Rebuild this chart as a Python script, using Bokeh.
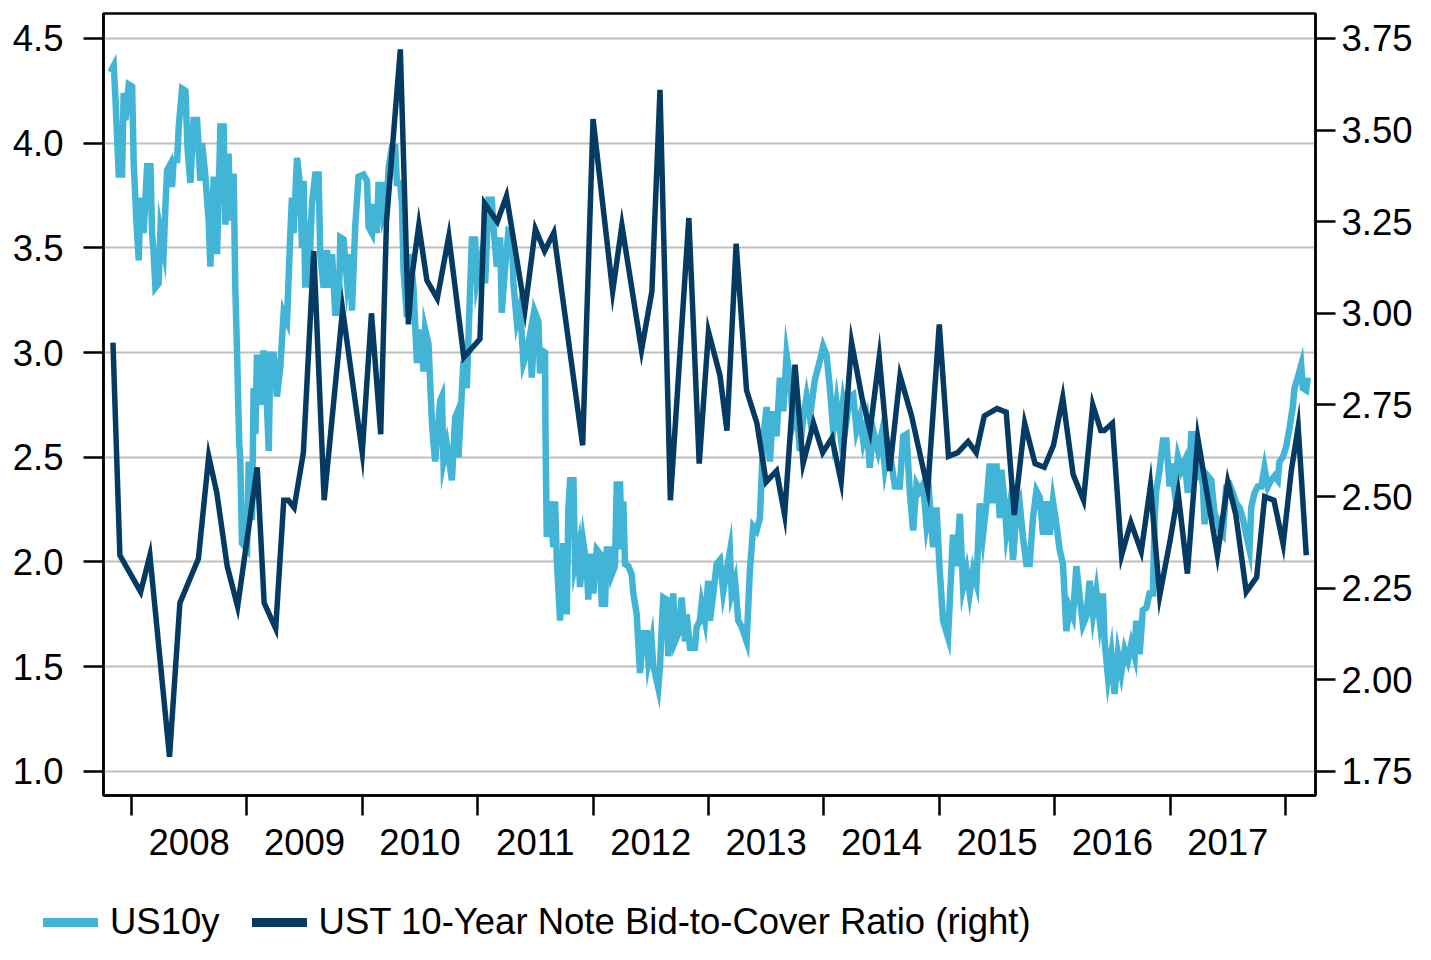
from bokeh.plotting import figure
from bokeh.layouts import column
from bokeh.models import (Range1d, LinearAxis, FixedTicker, PrintfTickFormatter, Div)
from bokeh.embed import file_html
from bokeh.resources import INLINE

# ---------------- data ----------------
year_ticks = [2008, 2009, 2010, 2011, 2012, 2013, 2014, 2015, 2016, 2017, 2018]
left_ticks = [1.0, 1.5, 2.0, 2.5, 3.0, 3.5, 4.0, 4.5]
right_ticks = [1.75, 2.0, 2.25, 2.5, 2.75, 3.0, 3.25, 3.5, 3.75]

us10y_t = (
    [2007.818, 2007.847, 2007.861, 2007.890, 2007.919, 2007.933, 2007.948, 2007.977]
    + [2008.006, 2008.020, 2008.043, 2008.063, 2008.078, 2008.106, 2008.136, 2008.165, 2008.179, 2008.193,
       2008.208, 2008.236, 2008.251, 2008.280, 2008.294, 2008.309, 2008.338, 2008.352, 2008.366, 2008.396,
       2008.410, 2008.439, 2008.468, 2008.487, 2008.511, 2008.539, 2008.569, 2008.597, 2008.612, 2008.641,
       2008.669, 2008.684, 2008.713, 2008.742, 2008.771, 2008.799, 2008.814, 2008.842, 2008.857, 2008.872,
       2008.886, 2008.900, 2008.915, 2008.926, 2008.935, 2008.944, 2008.958]
    + [2009.002, 2009.016, 2009.045, 2009.059, 2009.074, 2009.088, 2009.117, 2009.145, 2009.175, 2009.190,
       2009.203, 2009.232, 2009.261, 2009.290, 2009.319, 2009.348, 2009.377, 2009.391, 2009.405, 2009.435,
       2009.463, 2009.478, 2009.492, 2009.506, 2009.521, 2009.535, 2009.564, 2009.593, 2009.622, 2009.636,
       2009.665, 2009.694, 2009.723, 2009.738, 2009.766, 2009.795, 2009.810, 2009.838, 2009.868, 2009.896,
       2009.911, 2009.939, 2009.968]
    + [2010.011, 2010.041, 2010.055, 2010.084, 2010.098, 2010.127, 2010.141, 2010.171, 2010.184, 2010.214,
       2010.228, 2010.257, 2010.286, 2010.300, 2010.329, 2010.344, 2010.358, 2010.387, 2010.416, 2010.444,
       2010.474, 2010.502, 2010.531, 2010.545, 2010.574, 2010.603, 2010.615, 2010.632, 2010.675, 2010.690,
       2010.704, 2010.733, 2010.777, 2010.805, 2010.820, 2010.834, 2010.877, 2010.906, 2010.935, 2010.950,
       2010.978, 2010.993]
    + [2011.036, 2011.065, 2011.094, 2011.123, 2011.137, 2011.166, 2011.195, 2011.209, 2011.238, 2011.267,
       2011.296, 2011.310, 2011.339, 2011.368, 2011.397, 2011.426, 2011.455, 2011.469, 2011.498, 2011.526,
       2011.541, 2011.556, 2011.584, 2011.588, 2011.599, 2011.628, 2011.656, 2011.671, 2011.686, 2011.714,
       2011.743, 2011.772, 2011.786, 2011.801, 2011.830, 2011.844, 2011.873, 2011.887, 2011.916, 2011.945,
       2011.959, 2011.974]
    + [2012.003, 2012.032, 2012.061, 2012.075, 2012.104, 2012.119, 2012.147, 2012.162, 2012.190, 2012.205,
       2012.234, 2012.248, 2012.262, 2012.277, 2012.306, 2012.335, 2012.349, 2012.378, 2012.407, 2012.435,
       2012.465, 2012.479, 2012.508, 2012.522, 2012.537, 2012.565, 2012.580, 2012.595, 2012.609, 2012.638,
       2012.652, 2012.695, 2012.710, 2012.739, 2012.768, 2012.797, 2012.811, 2012.840, 2012.883, 2012.898,
       2012.926, 2012.941, 2012.970, 2012.998]
    + [2013.013, 2013.042, 2013.071, 2013.100, 2013.128, 2013.158, 2013.186, 2013.201, 2013.230, 2013.258,
       2013.288, 2013.331, 2013.359, 2013.388, 2013.417, 2013.446, 2013.475, 2013.504, 2013.532, 2013.561,
       2013.590, 2013.619, 2013.648, 2013.677, 2013.706, 2013.734, 2013.764, 2013.792, 2013.821, 2013.850,
       2013.879, 2013.922, 2013.965, 2013.994]
    + [2014.023, 2014.052, 2014.081, 2014.110, 2014.139, 2014.167, 2014.197, 2014.225, 2014.254, 2014.283,
       2014.312, 2014.340, 2014.370, 2014.398, 2014.427, 2014.470, 2014.500, 2014.528, 2014.557, 2014.586,
       2014.615, 2014.658, 2014.687, 2014.716, 2014.745, 2014.773, 2014.803, 2014.831, 2014.860, 2014.889,
       2014.918, 2014.946, 2014.976]
    + [2015.004, 2015.033, 2015.076, 2015.106, 2015.119, 2015.149, 2015.178, 2015.206, 2015.236, 2015.264,
       2015.293, 2015.322, 2015.351, 2015.379, 2015.409, 2015.437, 2015.466, 2015.495, 2015.524, 2015.538,
       2015.567, 2015.582, 2015.610, 2015.639, 2015.668, 2015.697, 2015.725, 2015.755, 2015.783, 2015.812,
       2015.842, 2015.870, 2015.899, 2015.928, 2015.957, 2015.985]
    + [2016.015, 2016.043, 2016.072, 2016.101, 2016.130, 2016.158, 2016.188, 2016.217, 2016.245, 2016.274,
       2016.303, 2016.332, 2016.361, 2016.390, 2016.418, 2016.433, 2016.462, 2016.491, 2016.519, 2016.548,
       2016.577, 2016.606, 2016.635, 2016.664, 2016.693, 2016.707, 2016.736, 2016.764, 2016.794, 2016.822,
       2016.851, 2016.866, 2016.880, 2016.909, 2016.938, 2016.967, 2016.996]
    + [2017.010, 2017.039, 2017.068, 2017.097, 2017.126, 2017.154, 2017.184, 2017.212, 2017.227, 2017.256,
       2017.284, 2017.299, 2017.327, 2017.357, 2017.385, 2017.414, 2017.428, 2017.457, 2017.487, 2017.515,
       2017.544, 2017.573, 2017.602, 2017.630, 2017.660, 2017.688, 2017.703, 2017.732, 2017.760, 2017.790,
       2017.818, 2017.847, 2017.876, 2017.905, 2017.933, 2017.948, 2017.977, 2018.006, 2018.035, 2018.063,
       2018.078, 2018.106, 2018.136, 2018.150, 2018.179, 2018.193]
)

us10y_v = (
    [4.34, 4.37, 4.22, 3.85, 3.85, 4.24, 4.11, 4.28]
    + [4.27, 3.90, 3.63, 3.44, 3.74, 3.57, 3.89, 3.89, 3.57, 3.47,
       3.31, 3.33, 3.58, 3.49, 3.69, 3.87, 3.90, 3.79, 3.92, 3.92,
       4.08, 4.26, 4.25, 3.97, 3.81, 4.11, 4.11, 3.82, 4.00, 3.84,
       3.63, 3.41, 3.84, 3.47, 4.08, 4.08, 3.61, 3.95, 3.63, 3.84,
       3.84, 3.31, 3.01, 2.74, 2.56, 2.48, 2.09]
    + [2.06, 2.48, 2.20, 2.83, 2.61, 2.99, 2.75, 3.01, 2.74, 2.53,
       2.99, 2.99, 2.79, 2.93, 3.19, 3.15, 3.57, 3.74, 3.57, 3.93,
       3.79, 3.50, 3.82, 3.31, 3.63, 3.31, 3.71, 3.85, 3.85, 3.47,
       3.31, 3.49, 3.31, 3.47, 3.19, 3.19, 3.55, 3.54, 3.34, 3.47,
       3.20, 3.60, 3.84]
    + [3.85, 3.82, 3.60, 3.57, 3.71, 3.57, 3.80, 3.80, 3.66, 3.72,
       3.88, 3.98, 3.98, 3.81, 3.81, 3.71, 3.39, 3.17, 3.47, 3.31,
       2.95, 3.11, 2.91, 3.11, 3.04, 2.68, 2.58, 2.48, 2.77, 2.79,
       2.48, 2.56, 2.39, 2.69, 2.71, 2.50, 2.96, 2.83, 3.31, 3.54,
       3.54, 3.34]
    + [3.47, 3.33, 3.73, 3.73, 3.60, 3.41, 3.55, 3.19, 3.41, 3.58,
       3.57, 3.33, 3.15, 3.22, 2.95, 3.00, 3.09, 2.88, 3.19, 3.15,
       2.90, 3.01, 3.00, 2.61, 2.12, 2.29, 2.07, 2.29, 2.01, 1.72,
       2.09, 1.75, 2.25, 2.39, 2.39, 1.99, 2.07, 1.88, 2.09, 1.98,
       1.82, 2.04]
    + [1.85, 2.06, 2.04, 1.80, 1.80, 2.06, 2.06, 1.94, 1.98, 2.37,
       2.37, 2.06, 2.29, 1.99, 1.98, 1.94, 1.85, 1.75, 1.47, 1.66,
       1.66, 1.53, 1.62, 1.50, 1.47, 1.40, 1.50, 1.69, 1.83, 1.82,
       1.55, 1.85, 1.62, 1.66, 1.83, 1.62, 1.75, 1.59, 1.59, 1.69,
       1.72, 1.80, 1.72, 1.91]
    + [1.72, 1.85, 1.99, 2.01, 1.86, 1.96, 2.05, 1.85, 1.91, 1.72,
       1.69, 1.62, 1.96, 2.17, 2.15, 2.21, 2.60, 2.74, 2.48, 2.72,
       2.60, 2.88, 2.72, 2.99, 2.88, 2.66, 2.72, 2.53, 2.69, 2.79,
       2.69, 2.87, 2.96, 3.03]
    + [2.99, 2.83, 2.63, 2.76, 2.63, 2.77, 2.68, 2.79, 2.80, 2.63,
       2.69, 2.58, 2.66, 2.45, 2.63, 2.53, 2.61, 2.45, 2.55, 2.47,
       2.36, 2.36, 2.60, 2.61, 2.33, 2.15, 2.37, 2.34, 2.37, 2.18,
       2.28, 2.07, 2.26]
    + [1.96, 1.72, 1.64, 1.98, 2.13, 1.98, 2.23, 1.88, 1.96, 1.85,
       1.96, 1.90, 2.28, 2.13, 2.28, 2.47, 2.28, 2.47, 2.21, 2.44,
       2.28, 2.15, 2.26, 2.01, 2.23, 2.28, 2.12, 1.99, 1.99, 2.21,
       2.34, 2.31, 2.13, 2.29, 2.13, 2.29]
    + [2.18, 2.06, 1.99, 1.67, 1.78, 1.74, 1.98, 1.83, 1.70, 1.74,
       1.91, 1.75, 1.86, 1.72, 1.85, 1.62, 1.45, 1.56, 1.37, 1.56,
       1.47, 1.58, 1.53, 1.61, 1.55, 1.72, 1.56, 1.77, 1.78, 1.85,
       1.85, 2.21, 2.34, 2.44, 2.58, 2.58, 2.36]
    + [2.47, 2.34, 2.50, 2.44, 2.48, 2.33, 2.61, 2.61, 2.41, 2.44,
       2.37, 2.18, 2.41, 2.39, 2.23, 2.20, 2.15, 2.13, 2.36, 2.37,
       2.33, 2.28, 2.26, 2.21, 2.13, 2.06, 2.26, 2.33, 2.36, 2.36,
       2.45, 2.36, 2.39, 2.41, 2.39, 2.48, 2.50, 2.55, 2.64, 2.74,
       2.83, 2.88, 2.94, 2.83, 2.82, 2.88]
)

btc_t = [2007.84, 2007.90, 2008.08, 2008.16, 2008.33, 2008.42, 2008.58, 2008.67, 2008.74, 2008.83,
         2008.92, 2009.09, 2009.15, 2009.25, 2009.32, 2009.36, 2009.41, 2009.49, 2009.58, 2009.67,
         2009.83, 2010.00, 2010.08, 2010.16, 2010.21, 2010.33, 2010.40, 2010.43, 2010.49, 2010.56,
         2010.65, 2010.75, 2010.88, 2011.02, 2011.06, 2011.17, 2011.25, 2011.41, 2011.50, 2011.58,
         2011.66, 2011.91, 2012.00, 2012.17, 2012.25, 2012.42, 2012.51, 2012.58, 2012.67, 2012.83,
         2012.92, 2013.00, 2013.10, 2013.16, 2013.24, 2013.33, 2013.42, 2013.50, 2013.59, 2013.66,
         2013.75, 2013.82, 2013.91, 2013.99, 2014.07, 2014.15, 2014.24, 2014.33, 2014.40, 2014.48,
         2014.57, 2014.66, 2014.76, 2014.90, 2015.00, 2015.08, 2015.16, 2015.25, 2015.32, 2015.39,
         2015.50, 2015.58, 2015.65, 2015.74, 2015.83, 2015.91, 2015.99, 2016.07, 2016.16, 2016.25,
         2016.33, 2016.40, 2016.43, 2016.50, 2016.58, 2016.66, 2016.75, 2016.83, 2016.91, 2017.00,
         2017.07, 2017.15, 2017.24, 2017.33, 2017.41, 2017.50, 2017.57, 2017.66, 2017.75, 2017.82,
         2017.90, 2017.98, 2018.05, 2018.11, 2018.18]

btc_v = [2.92, 2.34, 2.24, 2.34, 1.79, 2.21, 2.33, 2.61, 2.51, 2.31,
         2.20, 2.58, 2.21, 2.14, 2.49, 2.49, 2.47, 2.62, 3.17, 2.49,
         3.01, 2.62, 3.00, 2.67, 3.25, 3.72, 2.97, 3.10, 3.24, 3.09,
         3.04, 3.21, 2.88, 2.93, 3.30, 3.25, 3.32, 3.01, 3.23, 3.17,
         3.22, 2.64, 3.53, 3.06, 3.24, 2.90, 3.06, 3.61, 2.49, 3.26,
         2.59, 2.95, 2.83, 2.68, 3.19, 2.79, 2.70, 2.54, 2.57, 2.45,
         2.86, 2.59, 2.70, 2.62, 2.66, 2.54, 2.92, 2.77, 2.68, 2.88,
         2.57, 2.83, 2.72, 2.52, 2.97, 2.61, 2.62, 2.65, 2.62, 2.72,
         2.74, 2.73, 2.45, 2.70, 2.59, 2.58, 2.64, 2.77, 2.56, 2.49,
         2.75, 2.68, 2.68, 2.70, 2.34, 2.43, 2.35, 2.53, 2.23, 2.38,
         2.51, 2.29, 2.66, 2.49, 2.34, 2.54, 2.45, 2.24, 2.28, 2.50,
         2.49, 2.37, 2.57, 2.69, 2.34]

series_names = ["US10y", "UST 10-Year Note Bid-to-Cover Ratio (right)"]

# ---------------- styling ----------------
FONT = "Liberation Sans"
FS = "36.5px"
LIGHT = "#42B4D6"
DARK = "#053B62"
series_colors = [LIGHT, DARK]

n = min(len(us10y_t), len(us10y_v))
m = min(len(btc_t), len(btc_v))

p = figure(width=1415, height=900, output_backend="svg", toolbar_location=None,
           x_range=Range1d(2007.758, 2018.260), y_range=Range1d(0.885, 4.619),
           min_border_left=103, min_border_right=99, min_border_top=13, min_border_bottom=105)
p.extra_y_ranges = {"btc": Range1d(1.6845, 3.818)}

p.background_fill_color = "white"
p.border_fill_color = "white"
p.outline_line_color = "black"
p.outline_line_width = 2.5

p.xgrid.visible = False
p.ygrid.ticker = FixedTicker(ticks=left_ticks)
p.ygrid.grid_line_color = "#BFBFBF"
p.ygrid.grid_line_width = 2

# x axis: labels mid-year, tick marks at year boundaries
xa = p.xaxis[0]
xa.ticker = FixedTicker(ticks=[y + 0.5 for y in year_ticks[:-1]], minor_ticks=year_ticks)
xa.formatter = PrintfTickFormatter(format="%d")
xa.major_tick_out = 0
xa.major_tick_in = 0
xa.major_tick_line_color = None
xa.minor_tick_out = 20
xa.minor_tick_in = 0
xa.minor_tick_line_color = "black"
xa.minor_tick_line_width = 2.5
xa.major_label_standoff = 13

ya = p.yaxis[0]
ya.ticker = FixedTicker(ticks=left_ticks)
ya.formatter = PrintfTickFormatter(format="%.1f")
ya.major_label_standoff = 20

yr = LinearAxis(y_range_name="btc", ticker=FixedTicker(ticks=right_ticks),
                formatter=PrintfTickFormatter(format="%.2f"))
p.add_layout(yr, "right")
yr.major_label_standoff = 6

for ax in (ya, yr):
    ax.major_tick_out = 20
    ax.major_tick_in = 0
    ax.minor_tick_out = 0
    ax.minor_tick_in = 0

for ax in (xa, ya, yr):
    ax.axis_line_color = "black"
    ax.axis_line_width = 2.5
    ax.major_tick_line_width = 2.5
    ax.major_label_text_font = FONT
    ax.major_label_text_font_size = FS
    ax.major_label_text_color = "black"

p.line(us10y_t[:n], us10y_v[:n], line_color=LIGHT, line_width=6.5, line_join="miter")
p.line(btc_t[:m], btc_v[:m], y_range_name="btc", line_color=DARK, line_width=5.5,
       line_join="miter")

# ---------------- legend strip below the chart ----------------
def swatch(color, left_gap):
    return ('<span style="display:inline-block;width:55px;height:9px;background:%s;'
            'margin-left:%dpx;margin-right:12px;"></span>' % (color, left_gap))

legend_html = (
    '<div style="display:flex;align-items:center;height:44px;padding-left:43px;'
    "font-family:'Liberation Sans',Arial,sans-serif;font-size:36.5px;color:#000;"
    'white-space:nowrap;line-height:42px;">'
    + swatch(series_colors[0], 0) + '<span>%s</span>' % series_names[0]
    + swatch(series_colors[1], 32) + '<span>%s</span>' % series_names[1]
    + '</div>'
)
legend_div = Div(text=legend_html, width=1415, height=44, margin=(0, 0, 0, 0))

layout = column(p, legend_div, spacing=0)
open("out.html", "w").write(file_html(layout, INLINE))
